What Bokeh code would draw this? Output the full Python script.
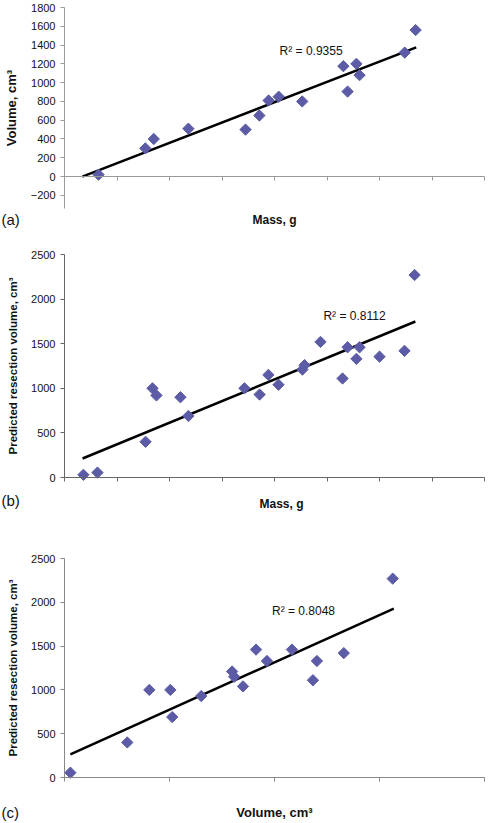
import numpy as np
from bokeh.plotting import figure
from bokeh.layouts import column
from bokeh.models import Range1d, FixedTicker, LinearAxis, Label
from bokeh.embed import file_html
from bokeh.resources import INLINE

# ---------------- data ----------------
# (a) Volume vs Mass
a_mass = [162, 385, 425, 590, 862, 928, 972, 1020, 1132, 1328, 1348, 1390, 1405, 1620, 1672]
a_volume = [20, 300, 400, 510, 500, 650, 810, 850, 800, 1175, 905, 1200, 1080, 1320, 1560]
a_trend_x = [85, 1675]
a_trend_y = [0, 1376]
a_r2_text = "R² = 0.9355"
a_r2_at = (1024, 1333)

# (b) Predicted resection volume vs Mass
b_mass = [90, 157, 386, 419, 438, 552, 590, 857, 929, 971, 1019, 1133, 1143, 1219,
          1324, 1348, 1390, 1405, 1500, 1619, 1667]
b_pred = [30, 55, 400, 1000, 920, 900, 690, 1000, 930, 1150, 1040, 1210, 1260, 1520,
          1110, 1460, 1330, 1460, 1355, 1420, 2270]
b_trend_x = [86, 1671]
b_trend_y = [213, 1749]
b_r2_text = "R² = 0.8112"
b_r2_at = (1233, 1816)

# (c) Predicted resection volume vs Volume
c_volume = [28, 299, 404, 504, 513, 651, 798, 808, 850, 912, 964, 1083, 1183, 1202, 1330, 1563]
c_pred = [55, 400, 1000, 1000, 690, 930, 1210, 1150, 1040, 1460, 1330, 1460, 1110, 1330, 1420, 2270]
c_trend_x = [28, 1568]
c_trend_y = [263, 1929]
c_r2_text = "R² = 0.8048"
c_r2_at = (988, 1895)

a_yticks = list(range(-200, 1801, 200))
bc_yticks = list(range(0, 2501, 500))
ab_xticks = list(range(0, 2001, 250))
c_xticks = list(range(0, 2001, 500))

FONT = "Liberation Sans"
MARK = "#5c5ca6"
TXT = "#111111"

W = 490      # figure width
FL = 64      # left edge of the data area inside the figure
FW = 420     # width of the data area


def make_panel(xs, ys, tx, ty, r2_text, r2_at, xticks, yticks, y_lo, y_hi,
               top, fh, bottom, ylabel, ylabel_size, xlabel, xlabel_size,
               xlabel_dx, xlabel_dy, tag, tag_dy, axis_color):
    H = top + fh + bottom
    xmax = xticks[-1]
    sx = xmax / FW
    sy = (y_hi - y_lo) / fh
    xr = Range1d(-FL * sx, xmax + (W - FL - FW) * sx)
    yr = Range1d(y_lo - bottom * sy, y_hi + top * sy)

    p = figure(frame_width=W, frame_height=H, min_border=0,
               x_range=xr, y_range=yr, title=None,
               x_axis_location=None, y_axis_location=None,
               output_backend="svg", toolbar_location=None)
    p.outline_line_color = None
    p.xgrid.visible = False
    p.ygrid.visible = False
    p.background_fill_color = "white"
    p.border_fill_color = "white"

    yax = LinearAxis(fixed_location=0, bounds=(y_lo, y_hi),
                     ticker=FixedTicker(ticks=yticks),
                     axis_label=ylabel, axis_label_text_font=FONT,
                     axis_label_text_font_style="bold",
                     axis_label_text_font_size=ylabel_size,
                     axis_label_text_color=TXT,
                     axis_label_standoff=9,
                     major_label_text_font=FONT, major_label_text_font_size="11px",
                     major_label_text_color=TXT,
                     major_label_standoff=5,
                     major_tick_in=0, major_tick_out=4,
                     minor_tick_line_color=None,
                     axis_line_color=axis_color, major_tick_line_color=axis_color)
    yax.major_label_overrides = {t: ("\u2212" + str(-t)) for t in yticks if t < 0}
    p.add_layout(yax, "left")

    xax = LinearAxis(fixed_location=0, bounds=(0, xmax),
                     ticker=FixedTicker(ticks=xticks),
                     major_label_text_color=None,
                     major_tick_in=0, major_tick_out=4,
                     minor_tick_line_color=None,
                     axis_line_color=axis_color, major_tick_line_color=axis_color)
    p.add_layout(xax, "below")

    p.line(tx, ty, line_color="black", line_width=2.5)
    p.scatter(xs, ys, marker="square", size=8, angle=np.pi / 4,
              fill_color=MARK, line_color=MARK)

    p.add_layout(Label(x=r2_at[0], y=r2_at[1], text=r2_text, text_align="left",
                       text_baseline="middle", text_font=FONT, text_font_size="12px",
                       text_color=TXT))

    def fx(px):
        return (px - FL) * sx

    def fy(py):
        return y_hi - (py - top) * sy

    p.add_layout(Label(x=fx(FL + FW / 2 + xlabel_dx), y=fy(top + fh + xlabel_dy),
                       text=xlabel, text_align="center", text_baseline="middle",
                       text_font=FONT, text_font_style="bold", text_font_size=xlabel_size,
                       text_color=TXT))
    p.add_layout(Label(x=fx(1), y=fy(top + fh + tag_dy), text=tag,
                       text_align="left", text_baseline="middle", text_font=FONT,
                       text_font_size="15px", text_color=TXT))
    return p


pa = make_panel(a_mass, a_volume, a_trend_x, a_trend_y, a_r2_text, a_r2_at,
                ab_xticks, a_yticks, -340, 1800, 7, 201, 32,
                "Volume, cm³", "13px", "Mass, g", "12px", 0, 11, "(a)", 11,
                "#9a9a9a")
pb = make_panel(b_mass, b_pred, b_trend_x, b_trend_y, b_r2_text, b_r2_at,
                ab_xticks, bc_yticks, 0, 2500, 14, 223, 53,
                "Predicted resection volume, cm³", "11.5px", "Mass, g", "12px", 7, 26,
                "(b)", 23, "#666666")
pc = make_panel(c_volume, c_pred, c_trend_x, c_trend_y, c_r2_text, c_r2_at,
                c_xticks, bc_yticks, 0, 2500, 28, 219, 45,
                "Predicted resection volume, cm³", "11.5px", "Volume, cm³", "13px", 0, 35,
                "(c)", 35, "#888888")

layout = column(pa, pb, pc, spacing=0)
open("out.html", "w").write(file_html(layout, INLINE))
